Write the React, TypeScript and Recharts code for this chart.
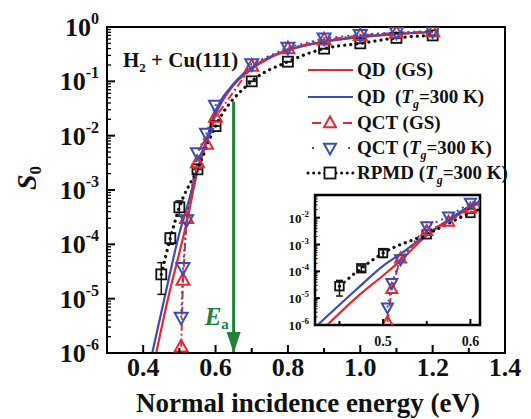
import React from 'react';
import { LineChart, Line, XAxis, YAxis, ReferenceArea, ErrorBar } from 'recharts';

const FONT = '"Liberation Serif", "Times New Roman", Times, serif';

// ---------- data (incidence energy in eV, sticking probability S0) ----------
const QD_GS_E = [0.436, 0.47, 0.5, 0.52, 0.55, 0.575, 0.6, 0.65, 0.7, 0.75, 0.8, 0.9, 1.0, 1.1, 1.2];
const QD_GS_S = [1e-6, 1.1e-5, 7e-5, 2.5e-4, 2.2e-3, 7.5e-3, 0.024, 0.085, 0.17, 0.27, 0.37, 0.53, 0.65, 0.74, 0.8];

const QD_TG_E = [0.425, 0.47, 0.5, 0.52, 0.55, 0.575, 0.6, 0.65, 0.7, 0.75, 0.8, 0.9, 1.0, 1.1, 1.2];
const QD_TG_S = [1e-6, 2.2e-5, 1.6e-4, 4.5e-4, 2.4e-3, 8.5e-3, 0.028, 0.09, 0.18, 0.28, 0.38, 0.54, 0.66, 0.75, 0.81];

const QCT_E = [0.505, 0.51, 0.52, 0.55, 0.575, 0.6, 0.7, 0.8, 0.9, 1.0, 1.1, 1.2];
const QCT_GS_S = [1.3e-6, 2.2e-5, 3e-4, 3.2e-3, 7e-3, 0.022, 0.19, 0.4, 0.58, 0.7, 0.78, 0.82];
const QCT_TG_S = [4.5e-6, 3.7e-5, 2.8e-4, 4.8e-3, 1.1e-2, 0.036, 0.21, 0.42, 0.62, 0.72, 0.8, 0.84];

const RPMD_E = [0.45, 0.475, 0.5, 0.55, 0.6, 0.7, 0.8, 0.9, 1.0, 1.1, 1.2];
const RPMD_S = [2.8e-5, 1.3e-4, 4.8e-4, 2.4e-3, 0.015, 0.1, 0.23, 0.4, 0.5, 0.63, 0.7];
const RPMD_ERR_LOW = [1.6e-5, 3e-5, 1.5e-4, 0, 0, 0, 0, 0, 0, 0, 0];
const RPMD_ERR_HIGH = [1.8e-5, 3e-5, 1.5e-4, 0, 0, 0, 0, 0, 0, 0, 0];

const EA_ENERGY = 0.65;
const EA_TOP = 0.042;
const EA_BOTTOM = 1e-6;

// ---------- axes ----------
const MAIN_X_DOMAIN = [0.3, 1.4];
const MAIN_X_TICKS = [0.3, 0.4, 0.5, 0.6, 0.7, 0.8, 0.9, 1.0, 1.1, 1.2, 1.3, 1.4];
const MAIN_X_LABELS = [0.4, 0.6, 0.8, 1.0, 1.2, 1.4];
const MAIN_Y_DOMAIN = [1e-6, 1];
const MAIN_DECADES = [-6, -5, -4, -3, -2, -1, 0];

const INSET_X_DOMAIN = [0.422, 0.611];
const INSET_X_TICKS = [0.45, 0.5, 0.55, 0.6];
const INSET_X_LABELS = [0.5, 0.6];
const INSET_Y_DOMAIN = [1e-6, 0.07];
const INSET_DECADES = [-6, -5, -4, -3, -2];

const withMinors = (decades: number[], maxVal: number) => {
  const out: number[] = [];
  decades.forEach((d) => {
    for (let m = 1; m <= 9; m++) {
      const v = m * Math.pow(10, d);
      if (v <= maxVal * 1.0000001) out.push(v);
    }
  });
  return out;
};
const MAIN_Y_TICKS = withMinors(MAIN_DECADES, 1);
const INSET_Y_TICKS = withMinors(INSET_DECADES, 0.07);

const rows = (E: number[], S: number[]) => E.map((x, i) => ({ x, y: S[i] }));
const qdGs = rows(QD_GS_E, QD_GS_S);
const qdTg = rows(QD_TG_E, QD_TG_S);
const qctGs = rows(QCT_E, QCT_GS_S);
const qctTg = rows(QCT_E, QCT_TG_S);
const rpmd = RPMD_E.map((x, i) => ({ x, y: RPMD_S[i], err: [RPMD_ERR_LOW[i], RPMD_ERR_HIGH[i]] }));
const eaArrow = [{ x: EA_ENERGY, y: EA_TOP }, { x: EA_ENERGY, y: EA_BOTTOM }];

const RED = '#e8282e';
const BLUE = '#3b4cb8';
const GREEN = '#22803a';

const isIn = (v: number, arr: number[]) => arr.some((a) => Math.abs(a - v) < 1e-9);
const isDecade = (v: number) => Math.abs(Math.log10(v) - Math.round(Math.log10(v))) < 1e-6;

// ---------- ticks ----------
const MainXTick = (p: any) => {
  const { x, y, payload } = p;
  const major = isIn(payload.value, MAIN_X_LABELS);
  return (
    <g>
      <line x1={x} x2={x} y1={y} y2={y - (major ? 8 : 5)} stroke="#000" strokeWidth={2} />
      {major && (
        <text x={x} y={y + 23} textAnchor="middle" fontFamily={FONT} fontWeight="bold" fontSize={26} fill="#111">
          {payload.value.toFixed(1)}
        </text>
      )}
    </g>
  );
};

const MainYTick = (p: any) => {
  const { x, y, payload } = p;
  const v = payload.value;
  const major = isDecade(v);
  const e = Math.round(Math.log10(v));
  return (
    <g>
      <line x1={x} x2={x + (major ? 8 : 4)} y1={y} y2={y} stroke="#000" strokeWidth={major ? 2 : 1.3} />
      {major && (
        <text x={x - 8} y={y + 9} textAnchor="end" fontFamily={FONT} fontWeight="bold" fontSize={26} fill="#111">
          10
          <tspan dy={-12} fontSize={16}>{e === 0 ? '0' : `-${-e}`}</tspan>
        </text>
      )}
    </g>
  );
};

const InsetXTick = (p: any) => {
  const { x, y, payload } = p;
  const major = isIn(payload.value, INSET_X_LABELS);
  return (
    <g>
      <line x1={x} x2={x} y1={y} y2={y - (major ? 6 : 4)} stroke="#000" strokeWidth={2} />
      {major && (
        <text x={x} y={y + 21} textAnchor="middle" fontFamily={FONT} fontWeight="bold" fontSize={14} fill="#111">
          {payload.value.toFixed(1)}
        </text>
      )}
    </g>
  );
};

const InsetYTick = (p: any) => {
  const { x, y, payload } = p;
  const v = payload.value;
  const major = isDecade(v);
  const e = Math.round(Math.log10(v));
  return (
    <g>
      <line x1={x} x2={x + (major ? 5 : 2.5)} y1={y} y2={y} stroke="#000" strokeWidth={major ? 2 : 1} />
      {major && (
        <text x={x - 6} y={y + 5} textAnchor="end" fontFamily={FONT} fontWeight="bold" fontSize={13} fill="#111">
          10
          <tspan dy={-6} fontSize={9}>{`-${-e}`}</tspan>
        </text>
      )}
    </g>
  );
};

// ---------- markers ----------
const TriUp = (p: any, s: number) => {
  const { cx, cy } = p;
  if (cx == null || cy == null) return <g key={p.key} />;
  const h = s * 0.9;
  return (
    <polygon
      key={`tu-${p.index}`}
      points={`${cx},${cy - h * 0.6} ${cx - s / 2},${cy + h * 0.4} ${cx + s / 2},${cy + h * 0.4}`}
      fill="none"
      stroke={RED}
      strokeWidth={2}
    />
  );
};
const TriDown = (p: any, s: number) => {
  const { cx, cy } = p;
  if (cx == null || cy == null) return <g key={p.key} />;
  const h = s * 0.9;
  return (
    <polygon
      key={`td-${p.index}`}
      points={`${cx},${cy + h * 0.6} ${cx - s / 2},${cy - h * 0.4} ${cx + s / 2},${cy - h * 0.4}`}
      fill="none"
      stroke={BLUE}
      strokeWidth={2}
    />
  );
};
const Square = (p: any, s: number) => {
  const { cx, cy } = p;
  if (cx == null || cy == null) return <g key={p.key} />;
  return (
    <rect key={`sq-${p.index}`} x={cx - s / 2} y={cy - s / 2} width={s} height={s} fill="none" stroke="#111" strokeWidth={1.8} />
  );
};
const ArrowDot = (p: any) => {
  const { cx, cy, index } = p;
  if (index !== 1 || cx == null) return <g key={`ea-${index}`} />;
  return (
    <g key={`ea-${index}`}>
      <polygon points={`${cx},${cy} ${cx - 7},${cy - 21} ${cx + 7},${cy - 21}`} fill={GREEN} />
      <text x={cx - 29} y={cy - 28} fontFamily={FONT} fontWeight="bold" fill={GREEN} fontSize={25}>
        <tspan fontStyle="italic">E</tspan>
        <tspan fontSize={15} dy={4}>a</tspan>
      </text>
    </g>
  );
};

// ---------- legend ----------
const LEGEND = [
  { head: 'QD  ', tail: '(GS)', tg: false, kind: 'qdGs' },
  { head: 'QD  ', tail: '', tg: true, kind: 'qdTg' },
  { head: 'QCT ', tail: '(GS)', tg: false, kind: 'qctGs' },
  { head: 'QCT ', tail: '', tg: true, kind: 'qctTg' },
  { head: 'RPMD ', tail: '', tg: true, kind: 'rpmd' },
];

const LegendSample = ({ kind, cy }: { kind: string; cy: number }) => {
  const x1 = 308, x2 = 353, cx = 330;
  if (kind === 'qdGs') return <line x1={x1} x2={x2} y1={cy} y2={cy} stroke={RED} strokeWidth={2.2} />;
  if (kind === 'qdTg') return <line x1={x1} x2={x2} y1={cy} y2={cy} stroke={BLUE} strokeWidth={2.2} />;
  if (kind === 'qctGs')
    return (
      <g>
        <line x1={x1 + 4} x2={x2} y1={cy} y2={cy} stroke={RED} strokeWidth={2} strokeDasharray="9 22" />
        {TriUp({ cx, cy, index: 0 }, 12)}
      </g>
    );
  if (kind === 'qctTg')
    return (
      <g>
        <line x1={x1 + 4} x2={x2} y1={cy} y2={cy} stroke={BLUE} strokeWidth={2} strokeDasharray="2 34" />
        {TriDown({ cx, cy, index: 0 }, 12)}
      </g>
    );
  return (
    <g>
      <line x1={x1} x2={x2} y1={cy} y2={cy} stroke="#111" strokeWidth={3} strokeDasharray="0.1 5.5" strokeLinecap="round" />
      <rect x={cx - 5.5} y={cy - 5.5} width={11} height={11} fill="#fff" stroke="#111" strokeWidth={1.8} />
    </g>
  );
};

const Overlay = () => {
  const rowY = [70, 97, 123, 148, 173];
  return (
    <svg width={531} height={419} style={{ position: 'absolute', left: 0, top: 0, pointerEvents: 'none' }}>
      <text x={123} y={67} fontFamily={FONT} fontWeight="bold" fontSize={21} fill="#111">
        H<tspan fontSize={13} dy={5}>2</tspan>
        <tspan dy={-5}> + Cu(111)</tspan>
      </text>
      <text
        transform="translate(36,178) rotate(-90)"
        textAnchor="middle"
        fontFamily={FONT}
        fontWeight="bold"
        fontSize={28}
        fill="#111"
      >
        <tspan fontStyle="italic">S</tspan>
        <tspan fontSize={17} dy={5}>0</tspan>
      </text>
      <text x={308} y={412} textAnchor="middle" fontFamily={FONT} fontWeight="bold" fontSize={27} fill="#111">
        Normal incidence energy (eV)
      </text>
      {LEGEND.map((l, i) => (
        <g key={l.kind}>
          <LegendSample kind={l.kind} cy={rowY[i]} />
          <text x={357} y={rowY[i] + 6} fontFamily={FONT} fontWeight="bold" fontSize={19} fill="#111" style={{ whiteSpace: 'pre' }}>
            {l.head}
            {l.tg ? (
              <>
                (<tspan fontStyle="italic">T</tspan>
                <tspan fontSize={12} fontStyle="italic" dy={5}>g</tspan>
                <tspan dy={-5}>=300 K)</tspan>
              </>
            ) : (
              l.tail
            )}
          </text>
        </g>
      ))}
    </svg>
  );
};

const seriesLines = (markerScale: number, strokeScale: number, arrow: boolean) => [
  <Line key="qdGs" data={qdGs} dataKey="y" type="monotone" stroke={RED} strokeWidth={2.2 * strokeScale} dot={false} isAnimationActive={false} />,
  <Line key="qdTg" data={qdTg} dataKey="y" type="monotone" stroke={BLUE} strokeWidth={2.2 * strokeScale} dot={false} isAnimationActive={false} />,
  <Line
    key="rpmd"
    data={rpmd}
    dataKey="y"
    type="monotone"
    stroke="#111"
    strokeWidth={3.2 * strokeScale}
    strokeDasharray={`0.1 ${6 * strokeScale}`}
    strokeLinecap="round"
    dot={(p: any) => Square(p, 10 * markerScale)}
    isAnimationActive={false}
  >
    <ErrorBar dataKey="err" width={4 * markerScale} strokeWidth={1.5} stroke="#111" direction="y" />
  </Line>,
  <Line
    key="qctGs"
    data={qctGs}
    dataKey="y"
    type="linear"
    stroke={RED}
    strokeWidth={2 * strokeScale}
    strokeDasharray="8 3 2 3"
    dot={(p: any) => TriUp(p, 13 * markerScale)}
    isAnimationActive={false}
  />,
  <Line
    key="qctTg"
    data={qctTg}
    dataKey="y"
    type="linear"
    stroke={BLUE}
    strokeWidth={2 * strokeScale}
    strokeDasharray="2 4"
    dot={(p: any) => TriDown(p, 13 * markerScale)}
    isAnimationActive={false}
  />,
  ...(arrow
    ? [
        <Line
          key="ea"
          data={eaArrow}
          dataKey="y"
          type="linear"
          stroke={GREEN}
          strokeWidth={3}
          dot={(p: any) => ArrowDot(p)}
          isAnimationActive={false}
        />,
      ]
    : []),
];

export default function App() {
  return (
    <div style={{ position: 'absolute', left: 0, top: 0, width: 531, height: 419, background: '#fff' }}>
      <LineChart width={531} height={419} margin={{ top: 27, right: 26, bottom: 0, left: 0 }}>
        <XAxis
          type="number"
          dataKey="x"
          domain={MAIN_X_DOMAIN}
          ticks={MAIN_X_TICKS}
          interval={0}
          allowDataOverflow
          tickSize={0}
          tickMargin={0}
          tickLine={false}
          tick={(p: any) => <MainXTick {...p} />}
          axisLine={{ stroke: '#000', strokeWidth: 2 }}
          height={66}
        />
        <YAxis
          type="number"
          scale="log"
          domain={MAIN_Y_DOMAIN}
          ticks={MAIN_Y_TICKS}
          interval={0}
          allowDataOverflow
          tickSize={0}
          tickMargin={0}
          tickLine={false}
          tick={(p: any) => <MainYTick {...p} />}
          axisLine={{ stroke: '#000', strokeWidth: 2 }}
          width={107}
        />
        <ReferenceArea x1={MAIN_X_DOMAIN[0]} x2={MAIN_X_DOMAIN[1]} y1={MAIN_Y_DOMAIN[0]} y2={MAIN_Y_DOMAIN[1]} fill="none" stroke="#000" strokeWidth={2} />
        {seriesLines(1, 1, true)}
      </LineChart>
      <Overlay />
      <div style={{ position: 'absolute', left: 265, top: 188 }}>
        <LineChart width={225} height={160} margin={{ top: 7, right: 10, bottom: 3, left: 0 }}>
          <XAxis
            type="number"
            dataKey="x"
            domain={INSET_X_DOMAIN}
            ticks={INSET_X_TICKS}
            interval={0}
            allowDataOverflow
            tickSize={0}
            tickMargin={0}
            tickLine={false}
            tick={(p: any) => <InsetXTick {...p} />}
            axisLine={{ stroke: '#000', strokeWidth: 2 }}
            height={20}
          />
          <YAxis
            type="number"
            scale="log"
            domain={INSET_Y_DOMAIN}
            ticks={INSET_Y_TICKS}
            interval={0}
            allowDataOverflow
            tickSize={0}
            tickMargin={0}
            tickLine={false}
            tick={(p: any) => <InsetYTick {...p} />}
            axisLine={{ stroke: '#000', strokeWidth: 2 }}
            width={50}
          />
          <ReferenceArea x1={INSET_X_DOMAIN[0]} x2={INSET_X_DOMAIN[1]} y1={INSET_Y_DOMAIN[0]} y2={INSET_Y_DOMAIN[1]} fill="none" stroke="#000" strokeWidth={2.5} />
          {seriesLines(0.85, 1, false)}
        </LineChart>
      </div>
    </div>
  );
}
